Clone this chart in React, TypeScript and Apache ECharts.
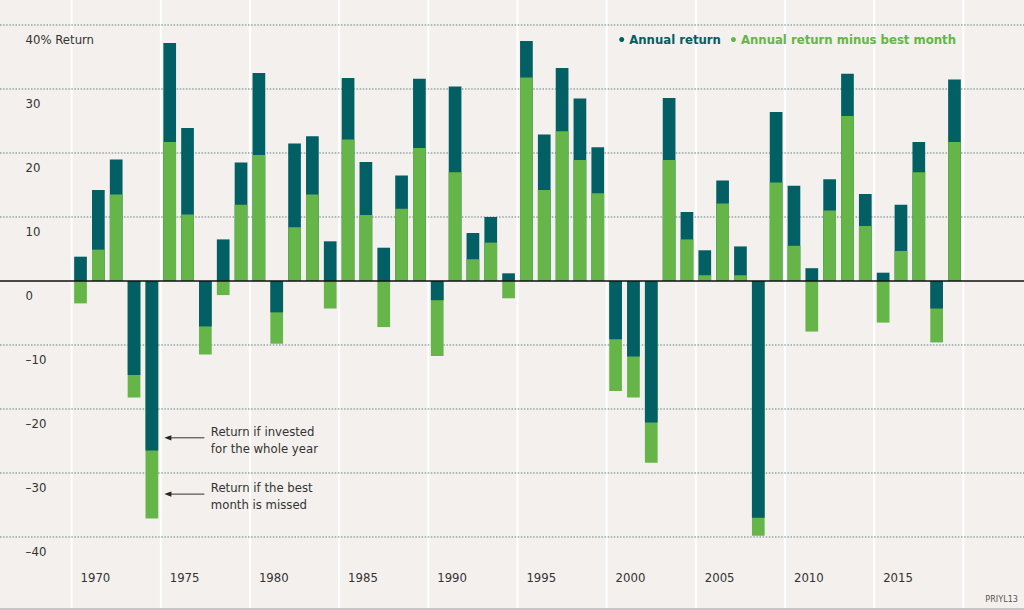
import React, { useEffect, useRef } from "react";
import * as echarts from "echarts";

const years = [
  "1970", "1971", "1972", "1973", "1974", "1975", "1976", "1977", "1978", "1979",
  "1980", "1981", "1982", "1983", "1984", "1985", "1986", "1987", "1988", "1989",
  "1990", "1991", "1992", "1993", "1994", "1995", "1996", "1997", "1998", "1999",
  "2000", "2001", "2002", "2003", "2004", "2005", "2006", "2007", "2008", "2009",
  "2010", "2011", "2012", "2013", "2014", "2015", "2016", "2017", "2018", "2019",
];

const annualReturn = [
  3.8, 14.2, 19.0, -14.7, -26.5, 37.2, 23.9, -7.1, 6.5, 18.5,
  32.5, -4.9, 21.5, 22.6, 6.2, 31.7, 18.6, 5.2, 16.5, 31.6,
  -3.0, 30.4, 7.5, 10.0, 1.2, 37.5, 22.9, 33.3, 28.5, 20.9,
  -9.1, -11.8, -22.1, 28.6, 10.8, 4.8, 15.7, 5.4, -37.0, 26.4,
  14.9, 2.0, 15.9, 32.4, 13.6, 1.3, 11.9, 21.7, -4.3, 31.5,
];

const minusBestMonth = [
  -3.5, 4.9, 13.5, -18.2, -37.1, 21.7, 10.4, -11.5, -2.2, 11.9,
  19.7, -9.8, 8.4, 13.5, -4.3, 22.1, 10.3, -7.2, 11.3, 20.8,
  -11.7, 17.0, 3.4, 6.0, -2.7, 31.8, 14.2, 23.4, 18.9, 13.7,
  -17.2, -18.2, -28.4, 18.9, 6.5, 0.9, 12.1, 0.9, -39.8, 15.4,
  5.5, -7.9, 11.0, 25.8, 8.6, -6.5, 4.7, 17.0, -9.6, 21.7,
];

const yTicks = [-40, -30, -20, -10, 0, 10, 20, 30, 40];

const annotations = [
  { year: "1974", value: -24.5, text: "Return if invested\nfor the whole year" },
  { year: "1974", value: -33.3, text: "Return if the best\nmonth is missed" },
];

const SERIES_ANNUAL = "Annual return";
const SERIES_MINUS = "Annual return minus best month";
const DARK = "#025f64";
const GREEN = "#66b548";
const BG = "#f3f0ed";
const FONT = "'Liberation Sans Narrow', 'Arial Narrow', 'DejaVu Sans Condensed', sans-serif";
const W = 1024;
const H = 610;

export default function App() {
  const ref = useRef<HTMLDivElement>(null);

  useEffect(() => {
    if (!ref.current) return;
    const chart = echarts.init(ref.current, undefined, { renderer: "svg" });

    const pos = (arr: number[]) => arr.map((v) => (v > 0 ? v : "-"));
    const neg = (arr: number[]) => arr.map((v) => (v < 0 ? v : "-"));
    const barCommon = {
      type: "bar",
      barWidth: 12.7,
      barGap: "-100%",
      silent: true,
    };

    chart.setOption({
      animation: false,
      backgroundColor: BG,
      grid: { left: 71.6, right: 60.6, top: 25, bottom: 73, containLabel: false },
      legend: {
        right: 68,
        top: 33,
        padding: 0,
        icon: "circle",
        itemWidth: 5,
        itemHeight: 5,
        itemGap: 10,
        selectedMode: false,
        textStyle: { fontFamily: FONT, fontSize: 13, fontWeight: "bold" },
        data: [
          { name: SERIES_ANNUAL, textStyle: { color: DARK } },
          { name: SERIES_MINUS, textStyle: { color: GREEN } },
        ],
      },
      xAxis: {
        type: "category",
        data: years,
        axisLine: { show: false },
        axisTick: { show: false },
        splitLine: { show: false },
        axisLabel: {
          interval: (i: number) => i % 5 === 0,
          align: "left",
          margin: 34,
          color: "#333",
          fontFamily: FONT,
          fontSize: 13,
        },
      },
      yAxis: {
        type: "value",
        min: -40,
        max: 40,
        interval: 10,
        axisLine: { show: false },
        axisTick: { show: false },
        splitLine: { show: false },
        axisLabel: {
          align: "left",
          margin: 46,
          verticalAlign: "top",
          padding: [8, 0, 0, 0],
          color: "#333",
          fontFamily: FONT,
          fontSize: 13,
          formatter: (v: number) =>
            v === 40 ? "40% Return" : v < 0 ? "\u2013" + Math.abs(v) : String(v),
        },
      },
      series: [
        { ...barCommon, name: SERIES_ANNUAL, itemStyle: { color: DARK }, data: pos(annualReturn) },
        { ...barCommon, name: SERIES_MINUS, itemStyle: { color: GREEN }, data: pos(minusBestMonth) },
        { ...barCommon, name: SERIES_MINUS, itemStyle: { color: GREEN }, data: neg(minusBestMonth) },
        { ...barCommon, name: SERIES_ANNUAL, itemStyle: { color: DARK }, data: neg(annualReturn) },
      ],
    });

    const px = (cat: string, v: number) =>
      chart.convertToPixel({ gridIndex: 0 }, [cat, v]) as number[];
    const band = px(years[1], 0)[0] - px(years[0], 0)[0];

    const graphics: any[] = [];
    // vertical white separators every 5 years
    const sepX: number[] = [];
    years.forEach((y, i) => {
      if (i % 5 === 0) sepX.push(px(y, 0)[0] - band / 2);
    });
    sepX.push(px(years[years.length - 1], 0)[0] + band / 2);
    sepX.forEach((x) =>
      graphics.push({
        type: "line",
        silent: true,
        z: 0,
        shape: { x1: x, y1: 0, x2: x, y2: H - 2 },
        style: { stroke: "#ffffff", lineWidth: 2 },
      })
    );
    // horizontal grid lines across full width
    yTicks.forEach((v) => {
      const y = px(years[0], v)[1];
      if (v === 0) {
        graphics.push({
          type: "line",
          silent: true,
          z: 5,
          shape: { x1: 0, y1: y, x2: W, y2: y },
          style: { stroke: "#111", lineWidth: 1.5 },
        });
      } else {
        graphics.push({
          type: "line",
          silent: true,
          z: 1,
          shape: { x1: 0, y1: y, x2: W, y2: y },
          style: { stroke: "#93a5a8", lineWidth: 1.5, lineDash: [1.5, 1.6] },
        });
      }
    });
    // annotations
    annotations.forEach((a) => {
      const [cx, cy] = px(a.year, a.value);
      const tip = cx + 12.5;
      graphics.push({
        type: "polygon",
        silent: true,
        z: 6,
        shape: { points: [[tip, cy], [tip + 7, cy - 2.6], [tip + 7, cy + 2.6]] },
        style: { fill: "#222" },
      });
      graphics.push({
        type: "line",
        silent: true,
        z: 6,
        shape: { x1: tip + 5, y1: cy, x2: tip + 40, y2: cy },
        style: { stroke: "#333", lineWidth: 1 },
      });
      graphics.push({
        type: "text",
        silent: true,
        z: 6,
        x: tip + 46.5,
        y: cy + 2,
        style: {
          text: a.text,
          fill: "#333",
          fontFamily: FONT,
          fontSize: 13,
          lineHeight: 17.4,
          verticalAlign: "middle",
          align: "left",
        },
      });
    });
    // source code label and bottom border
    graphics.push({
      type: "text",
      silent: true,
      z: 6,
      x: 1018,
      y: 599,
      style: {
        text: "PRIYL13",
        fill: "#555",
        fontFamily: FONT,
        fontSize: 9,
        align: "right",
        verticalAlign: "middle",
      },
    });
    graphics.push({
      type: "line",
      silent: true,
      z: 6,
      shape: { x1: 0, y1: H - 1, x2: W, y2: H - 1 },
      style: { stroke: "#c6c6c6", lineWidth: 2 },
    });

    chart.setOption({ graphic: { elements: graphics } });

    return () => chart.dispose();
  }, []);

  return (
    <div
      ref={ref}
      style={{ position: "fixed", left: 0, top: 0, width: W, height: H }}
    />
  );
}
